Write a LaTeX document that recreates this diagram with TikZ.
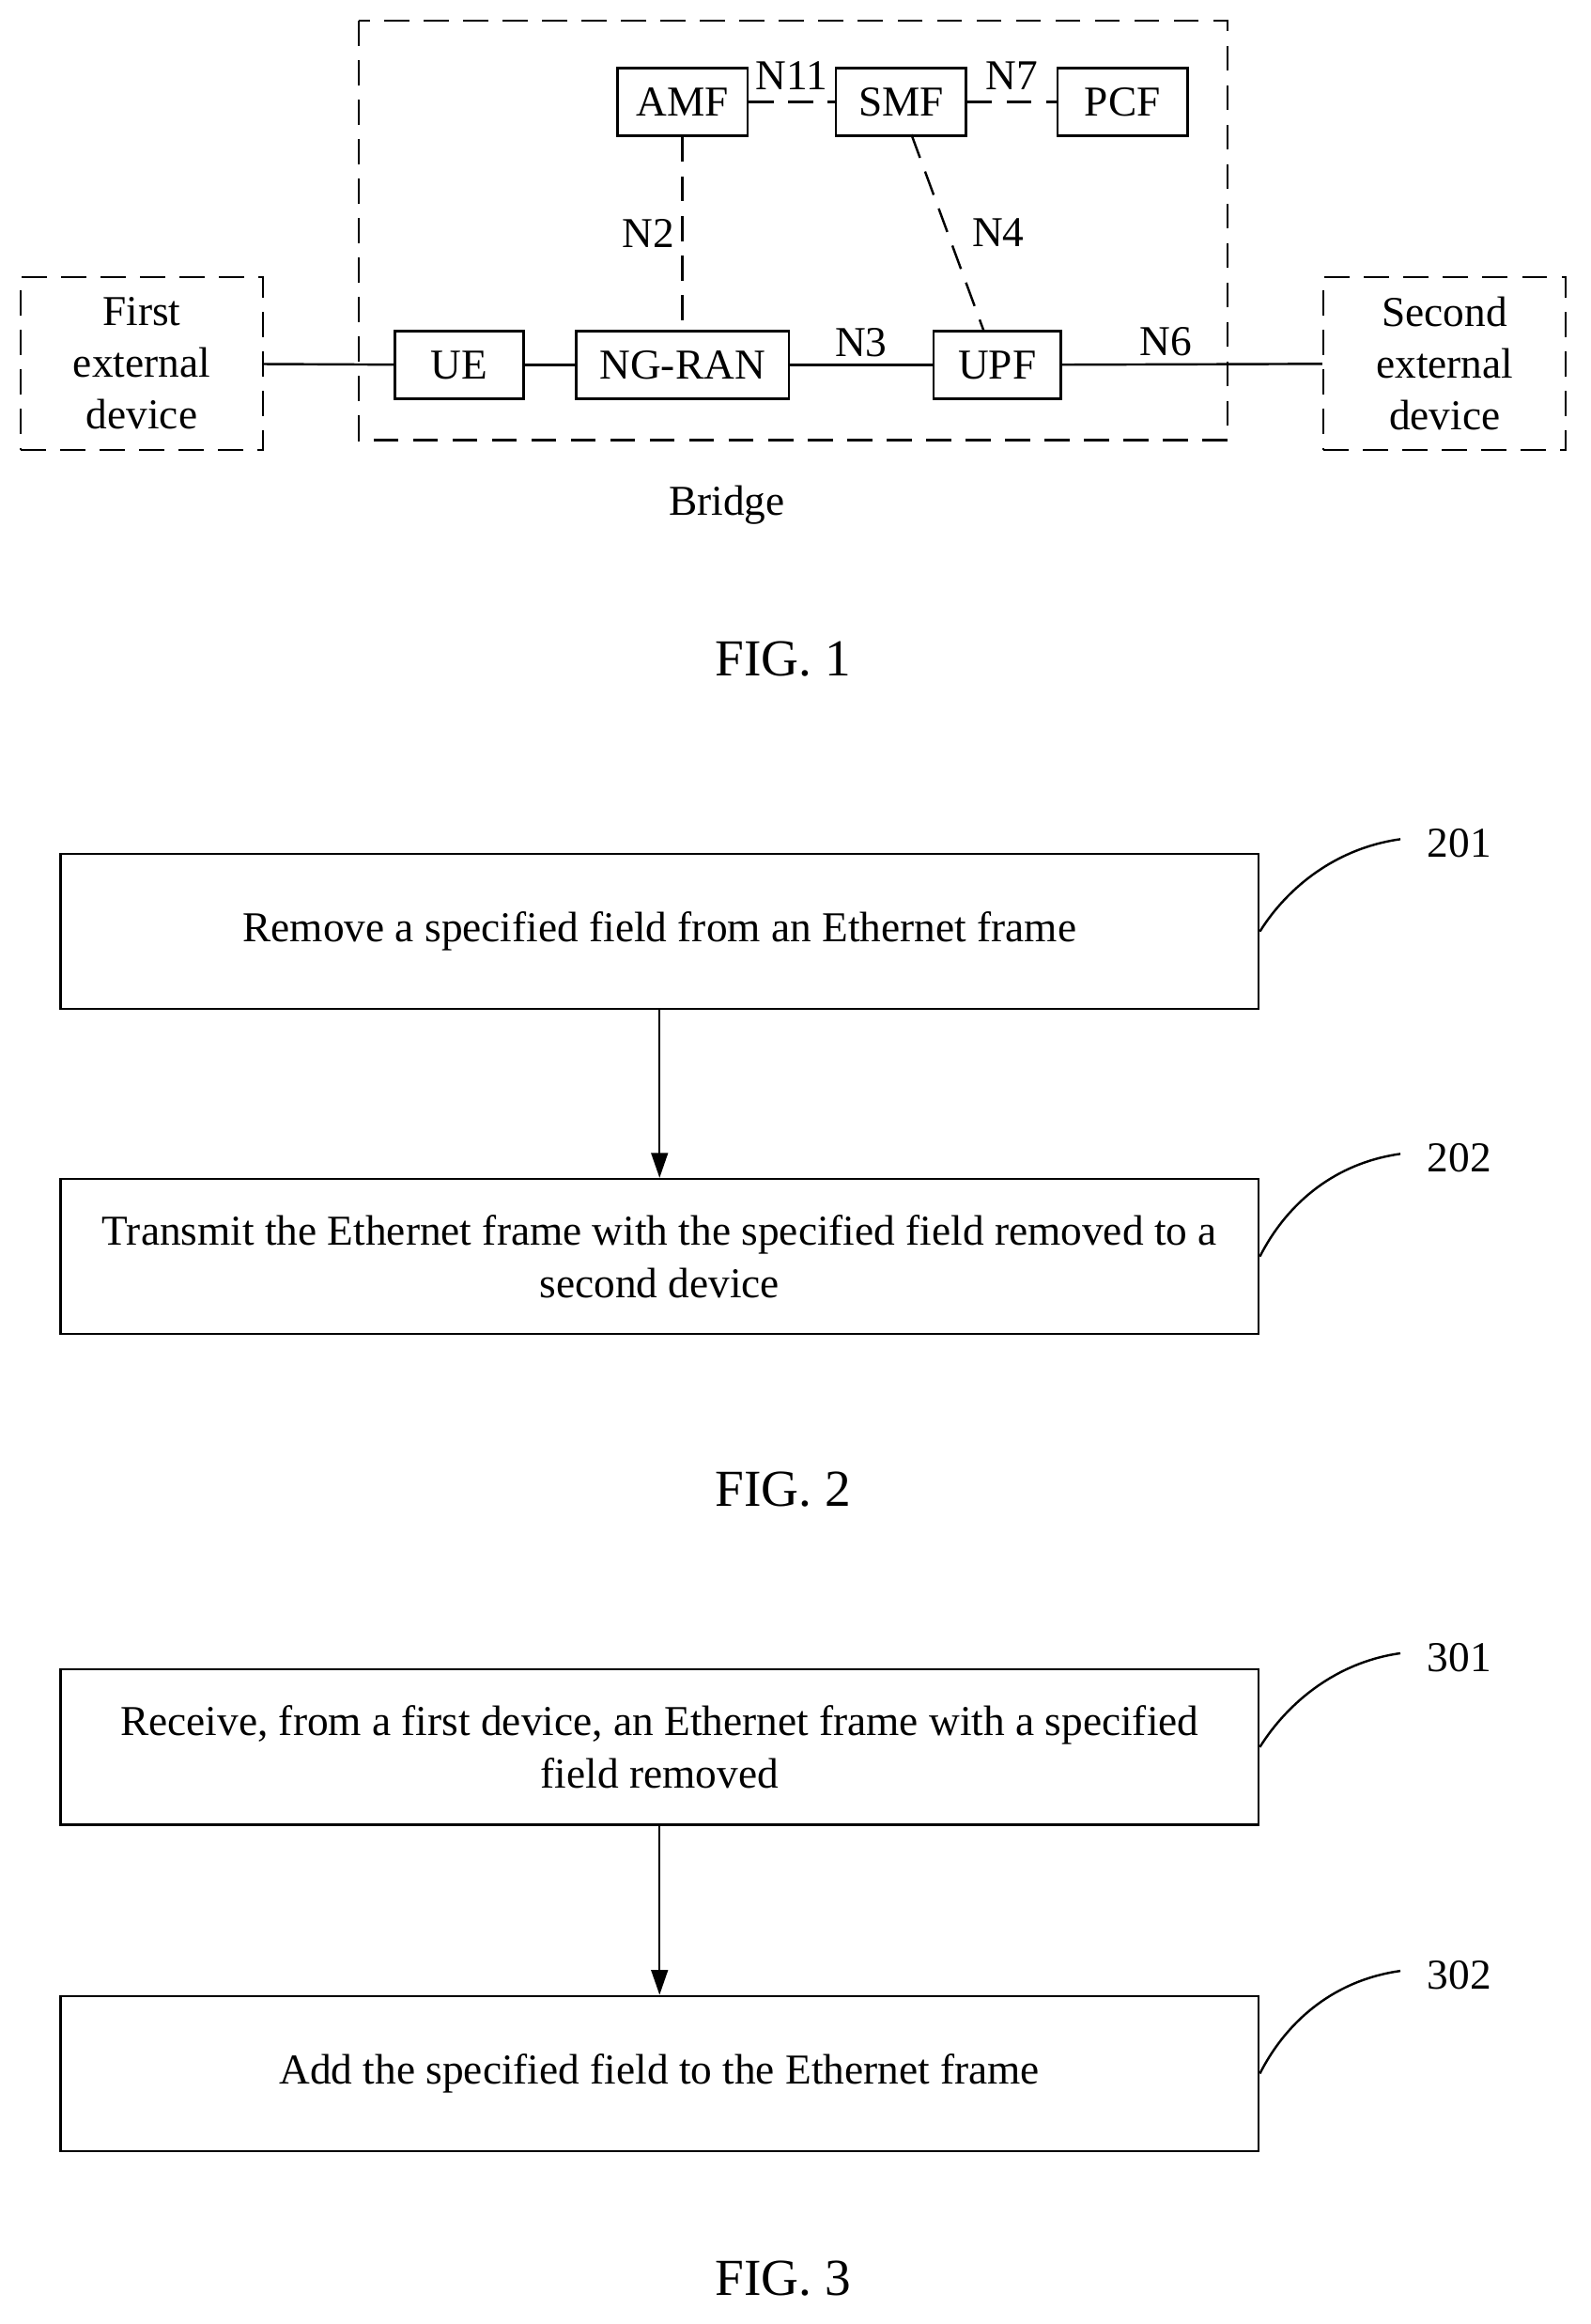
\documentclass[tikz,border=0pt]{standalone}
\usepackage{fontspec}
\setmainfont{Liberation Serif}
\usetikzlibrary{arrows.meta}
\begin{document}
\begin{tikzpicture}
  [x=0.025cm,y=-0.025cm,
   every node/.style={font=\fontsize{20.5}{25}\selectfont},
   box/.style={draw,line width=1.1pt,minimum height=1.15cm,inner sep=2pt},
   stepbox/.style={draw,line width=1.1pt,minimum width=20.275cm,minimum height=2.625cm,align=center},
   ext/.style={draw,line width=1.1pt,dash pattern=on 12pt off 7pt,minimum width=4.1cm,minimum height=2.925cm,align=center},
   iface/.style={line width=1.1pt,dash pattern=on 12pt off 7pt},
   link/.style={line width=1.1pt},
   flow/.style={line width=1.1pt,-{Triangle[length=12pt,width=8pt]}}]
  \useasboundingbox (0,0) rectangle (1077,1573);
  % FIG. 1
  \draw[iface] (243,14) rectangle (831,298);
  \node[box,minimum width=2.2cm] (amf) at (462,69) {AMF};
  \node[box,minimum width=2.2cm] (smf) at (610,69) {SMF};
  \node[box,minimum width=2.2cm] (pcf) at (760,69) {PCF};
  \node[box,minimum width=2.175cm] (ue) at (311,247) {UE};
  \node[box,minimum width=3.6cm] (ran) at (462,247) {NG-RAN};
  \node[box,minimum width=2.15cm] (upf) at (675,247) {UPF};
  \node[ext] (ext1) at (96,246) {First\\external\\device};
  \node[ext] (ext2) at (978,246) {Second\\external\\device};
  \coordinate (s4) at (617,91);
  \coordinate (u4) at (666,224);
  \draw[iface] (amf) -- node[above=2pt] {N11} (smf);
  \draw[iface] (smf) -- node[above=2pt] {N7} (pcf);
  \draw[iface] (amf) -- node[left] {N2} (ran);
  \draw[iface] (s4) -- node[right=8pt] {N4} (u4);
  \draw[link] (ext1) -- (ue);
  \draw[link] (ue) -- (ran);
  \draw[link] (ran) -- node[above] {N3} (upf);
  \draw[link] (upf) -- node[above,pos=0.4] {N6} (ext2);
  \node (bridge) at (492,342) {Bridge};
  \node[font=\fontsize{25}{30}\selectfont] (fig1) at (530,446) {FIG. 1};
  % FIG. 2
  \node[stepbox] (s201) at (446.5,630.5) {Remove a specified field from an Ethernet frame};
  \node[stepbox] (s202) at (446.5,850.5) {Transmit the Ethernet frame with the specified field removed to a\\second device};
  \draw[flow] (s201) -- (s202);
  \node (l201) at (988,571) {201};
  \node (l202) at (988,784) {202};
  \draw[link] (s201.east) .. controls (872,600) and (905,574) .. (948,568);
  \draw[link] (s202.east) .. controls (872,813) and (905,787) .. (948,781);
  \node[font=\fontsize{25}{30}\selectfont] (fig2) at (530,1008) {FIG. 2};
  % FIG. 3
  \node[stepbox] (s301) at (446.5,1182.5) {Receive, from a first device, an Ethernet frame with a specified\\field removed};
  \node[stepbox] (s302) at (446.5,1403.5) {Add the specified field to the Ethernet frame};
  \draw[flow] (s301) -- (s302);
  \node (l301) at (988,1122) {301};
  \node (l302) at (988,1337) {302};
  \draw[link] (s301.east) .. controls (872,1152) and (905,1125) .. (948,1119);
  \draw[link] (s302.east) .. controls (872,1366) and (905,1340) .. (948,1334);
  \node[font=\fontsize{25}{30}\selectfont] (fig3) at (530,1542) {FIG. 3};
\end{tikzpicture}
\end{document}
